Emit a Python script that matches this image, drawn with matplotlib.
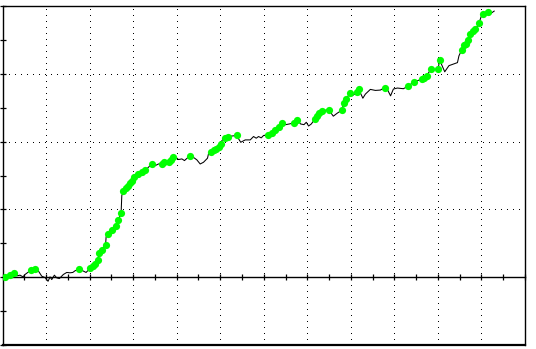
import matplotlib
matplotlib.use('Agg')
import matplotlib.pyplot as plt
import numpy as np

# equity curve, one point per step (x = trade no., y = balance in tick units)
trade_x = [
    1.15, 3.45, 5.29, 6.53, 8.05, 9.43, 10.34, 13.10, 14.94, 15.72,
    18.02, 19.54, 20.92, 21.84, 22.62, 23.82, 24.92, 26.11, 27.95, 29.52,
    31.03, 32.28, 33.33, 35.31, 37.15, 38.39, 39.45, 40.23, 41.47, 42.67,
    43.68, 44.51, 45.52, 47.36, 47.59, 48.64, 50.34, 52.18, 53.24, 54.48,
    54.80, 55.54, 56.64, 57.84, 58.62, 59.68, 60.60, 62.30, 64.00, 65.52,
    68.60, 70.11, 71.63, 73.47, 74.39, 76.69, 77.33, 78.25, 79.63, 80.83,
    82.39, 83.59, 84.97, 86.21, 88.05, 89.29, 90.80, 92.32, 94.16, 94.62,
    95.72, 96.92, 98.16, 99.22, 100.32, 100.78, 101.98, 103.36, 107.49, 109.43,
    111.49, 113.79, 115.31, 116.55, 117.61, 118.85, 119.91, 121.75, 123.77, 125.29,
    126.80, 128.51, 130.11, 131.72, 133.70, 135.40, 136.92, 138.48, 139.54, 140.60,
    141.84, 143.68, 144.60, 145.52, 146.67, 149.79, 151.95, 153.79, 155.95, 156.69,
    157.93, 159.45, 160.55, 162.85, 163.59, 165.52, 166.67, 168.97, 171.26, 173.56,
    175.49, 176.92, 178.25, 179.54, 181.38, 184.14, 186.44, 188.87, 192.55, 193.79,
    194.85, 196.69, 200.00, 200.83, 203.13, 205.06, 207.26, 208.97, 209.66, 210.90,
    212.05, 213.10, 213.89, 214.80, 216.18, 217.24, 218.85, 219.77, 220.55, 222.99,
    223.82, 224.74, 225.84,
]
balance = [
    0.01, 0.06, 0.13, 0.04, 0.06, 0.01, 0.08, 0.21, 0.24, 0.26,
    0.03, -0.01, -0.12, 0.01, -0.07, 0.06, -0.02, -0.04, 0.08, 0.14,
    0.13, 0.14, 0.19, 0.24, 0.18, 0.14, 0.21, 0.27, 0.32, 0.40,
    0.52, 0.71, 0.81, 0.96, 1.19, 1.26, 1.40, 1.52, 1.68, 1.90,
    2.41, 2.54, 2.63, 2.68, 2.77, 2.85, 2.95, 3.05, 3.10, 3.15,
    3.34, 3.29, 3.34, 3.34, 3.39, 3.39, 3.47, 3.56, 3.54, 3.47,
    3.49, 3.44, 3.52, 3.57, 3.52, 3.46, 3.34, 3.39, 3.51, 3.64,
    3.69, 3.74, 3.79, 3.83, 3.93, 4.03, 4.11, 4.15, 4.18, 3.98,
    4.05, 4.05, 4.15, 4.10, 4.15, 4.11, 4.18, 4.20, 4.24, 4.34,
    4.43, 4.54, 4.50, 4.52, 4.55, 4.64, 4.52, 4.50, 4.57, 4.46,
    4.52, 4.68, 4.76, 4.85, 4.91, 4.94, 4.75, 4.84, 4.93, 5.13,
    5.26, 5.42, 5.35, 5.45, 5.55, 5.28, 5.40, 5.54, 5.51, 5.52,
    5.59, 5.52, 5.35, 5.55, 5.58, 5.56, 5.64, 5.76, 5.84, 5.89,
    5.94, 6.13, 6.13, 6.40, 6.06, 6.24, 6.29, 6.33, 6.53, 6.70,
    6.84, 6.89, 6.99, 7.17, 7.26, 7.31, 7.49, 7.67, 7.77, 7.83,
    7.74, 7.80, 7.85,
]
# 1 = point marked with a green dot
marked = ("1110000110" "0000000000" "0001000111" "1111011111" "0111111111"
          "1001111100" "0001000000" "1111101110" "0000000111" "1100110000"
          "0111110011" "1101100000" "1000001111" "1111000001" "1111111011"
          "000")

trade_x = np.array(trade_x)
balance = np.array(balance)
flags = np.array([c == '1' for c in marked])

fig = plt.figure(figsize=(5.36, 3.49), dpi=100)
ax = fig.add_axes([2.5 / 536, 4 / 349, 522.5 / 536, 339 / 349])
ax.set_xlim(0, 240)
ax.set_ylim(-2, 8)

# grid on every other tick
ax.set_xticks(np.arange(0, 241, 20))
ax.set_xticks(np.arange(10, 240, 20), minor=True)
ax.set_yticks(np.arange(-2, 9, 2))
ax.set_yticks(np.arange(-1, 8, 2), minor=True)
ax.grid(which='major', color='black', linewidth=0.72,
        linestyle=(0, (0.8, 5.2)), antialiased=False)

for s in ax.spines.values():
    s.set_linewidth(1.0)
    s.set_color('black')
ax.spines['bottom'].set_position(('data', 0))
ax.axhline(-2, color='black', linewidth=1.6, clip_on=False)

ax.tick_params(which='both', direction='inout', length=4.5, width=0.9,
               labelbottom=False, labelleft=False, top=False, right=False)

ax.plot(trade_x, balance, color='black', linewidth=0.75, zorder=3)
ax.plot(trade_x[flags], balance[flags], 'o', color='#00ff00', markersize=5.2,
        markeredgewidth=0, zorder=4)

fig.savefig('out.png', dpi=100)
